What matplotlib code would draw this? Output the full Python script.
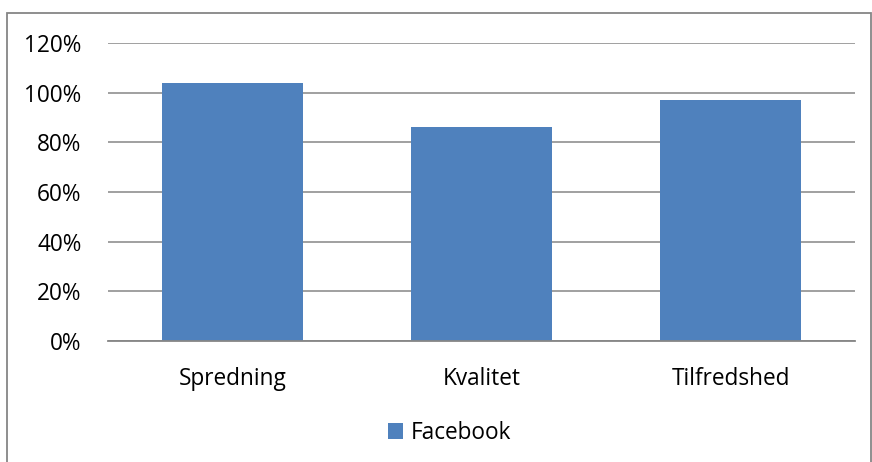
import matplotlib.pyplot as plt
from matplotlib.patches import Rectangle
from matplotlib.ticker import PercentFormatter

# data
categories = ['Spredning', 'Kvalitet', 'Tilfredshed']
facebook = [104, 86, 97]
yticks = [0, 20, 40, 60, 80, 100, 120]

plt.rcParams['font.family'] = ['Open Sans', 'DejaVu Sans']

W, H = 872, 462
fig = plt.figure(figsize=(W / 100, H / 100), dpi=100)
ax = fig.add_axes([108 / W, (H - 341) / H, (855 - 108) / W, (341 - 43) / H])

x = range(len(categories))
ax.bar(x, facebook, width=0.57, color='#4F81BD', label='Facebook', zorder=3)

ax.set_xlim(-0.5, len(categories) - 0.5)
ax.set_ylim(0, 120)
ax.set_yticks(yticks)
ax.yaxis.set_major_formatter(PercentFormatter(decimals=0))
ax.set_xticks(list(x))
ax.set_xticklabels(categories)
ax.tick_params(axis='both', length=0, labelsize=16.3, colors='black')
ax.tick_params(axis='y', pad=19)
ax.tick_params(axis='x', pad=19)
ax.grid(axis='y', color='#868686', linewidth=1.1, zorder=0)
for s in ['top', 'right', 'left']:
    ax.spines[s].set_visible(False)
ax.spines['bottom'].set_color('#868686')
ax.spines['bottom'].set_linewidth(1.3)
ax.spines['bottom'].set_zorder(4)

# legend below plot
fig.legend(loc='center', bbox_to_anchor=(450 / W, (H - 433) / H), frameon=False,
           fontsize=16.3, handlelength=0.65, handleheight=0.65, handletextpad=0.35)

# outer chart border
fig.patches.append(Rectangle((7 / W, -0.05), (W - 8) / W, (H - 13) / H + 0.05,
                             transform=fig.transFigure, fill=False,
                             edgecolor='#868686', linewidth=1.3))

fig.savefig('out.png', dpi=100)
